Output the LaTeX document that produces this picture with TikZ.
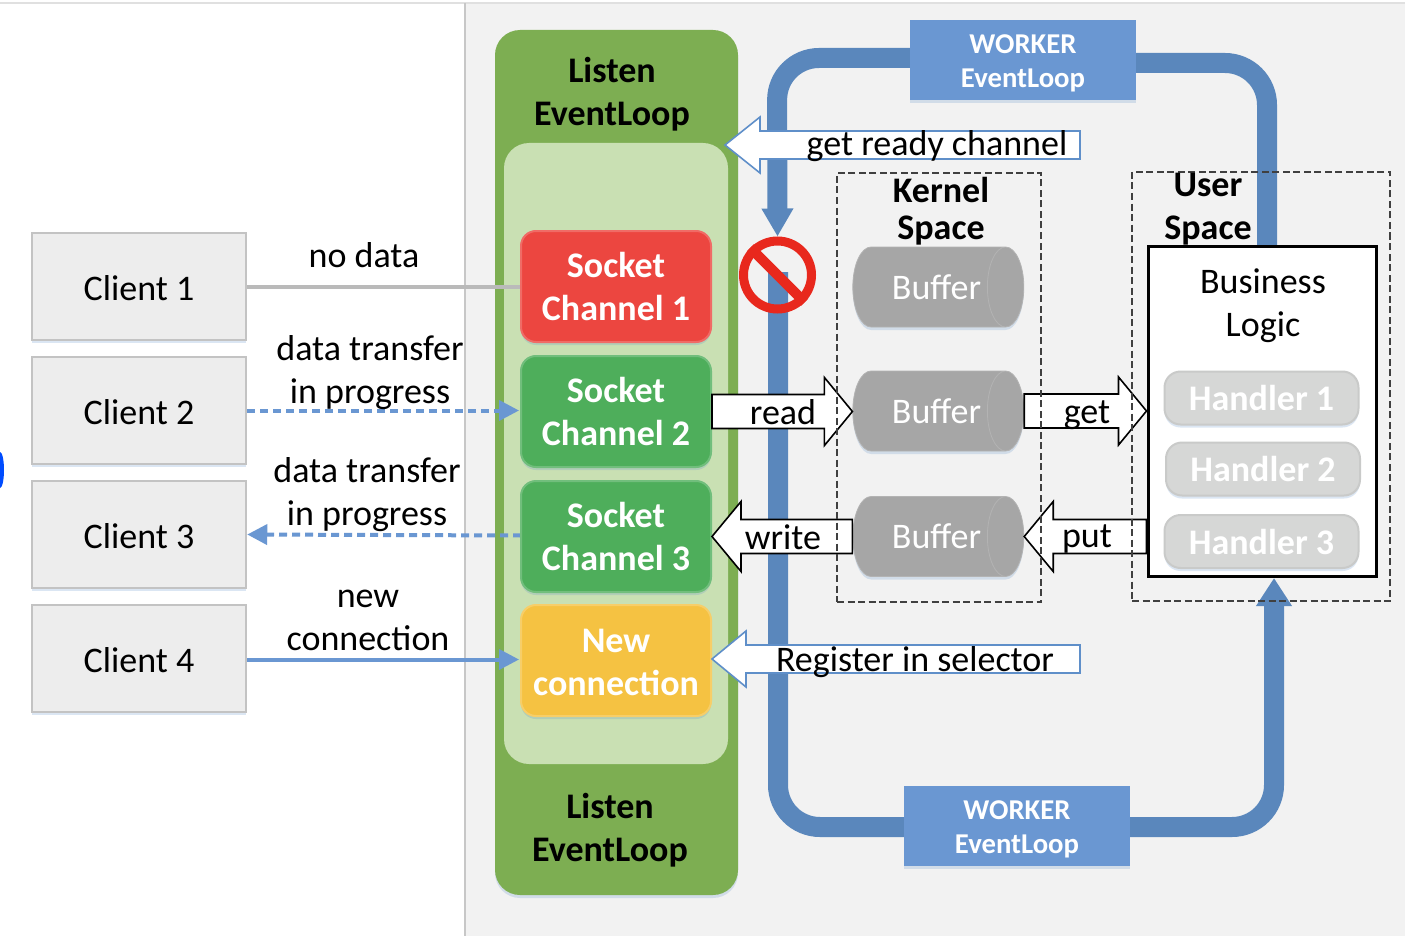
\documentclass[tikz,border=0pt]{standalone}
\usepackage{fontspec}
\setmainfont{Carlito}
\usetikzlibrary{shapes.geometric,arrows.meta,calc,shadows}
\pgfdeclarelayer{backdrop}
\pgfdeclarelayer{front}
\pgfsetlayers{backdrop,main,front}
\definecolor{pagebg}{HTML}{F2F2F2}
\definecolor{panelgreen}{HTML}{7DAE52}
\definecolor{innergreen}{HTML}{C9E0B3}
\definecolor{sockred}{HTML}{EC4640}
\definecolor{sockgreen}{HTML}{4EAE5B}
\definecolor{sockyellow}{HTML}{F5C242}
\definecolor{workerblue}{HTML}{6A97D2}
\definecolor{bandblue}{HTML}{5A87BC}
\definecolor{outlineblue}{HTML}{5F8FC9}
\definecolor{clientfill}{HTML}{EDEDED}
\definecolor{clientline}{HTML}{C3C3C3}
\definecolor{bufgray}{HTML}{A6A6A6}
\definecolor{handfill}{HTML}{D6D7D6}
\definecolor{handline}{HTML}{C9CAC9}
\definecolor{stopred}{HTML}{E8281D}
\tikzset{
  softshadow/.style={drop shadow={shadow xshift=0pt,shadow yshift=-3pt,fill=outlineblue,opacity=.22}},
  clientbox/.style={rectangle,draw=clientline,line width=2.5pt,fill=clientfill,minimum width=214pt,minimum height=107pt,inner sep=0pt,font=\fontsize{36}{43}\selectfont,softshadow},
  sockbox/.style={rectangle,rounded corners=15pt,draw=#1!80!white,line width=2pt,fill=#1,minimum width=190pt,minimum height=111pt,inner sep=0pt,align=center,text=white,font=\fontsize{36}{43}\selectfont\bfseries,softshadow},
  workerbox/.style={rectangle,fill=workerblue,minimum width=226pt,minimum height=80pt,inner sep=0pt,align=center,text=white,font=\fontsize{28.7}{34}\selectfont\bfseries,softshadow},
  bufferbox/.style={cylinder,shape border rotate=0,aspect=1.45,fill=bufgray,draw=bufgray!85!white,line width=.8pt,minimum height=171pt,minimum width=80pt,inner sep=0pt,text=white,font=\fontsize{36}{43}\selectfont,softshadow},
  handlerbox/.style={rectangle,rounded corners=16pt,draw=handline,line width=2pt,fill=handfill,minimum width=194pt,minimum height=53pt,inner sep=0pt,text=white,font=\fontsize{36}{43}\selectfont\bfseries,softshadow},
  txtlabel/.style={inner sep=0pt,align=center,font=\fontsize{36}{43}\selectfont},
  boldlabel/.style={txtlabel,font=\fontsize{36}{43}\selectfont\bfseries},
  spacebox/.style={draw=black!75,line width=1.3pt,dash pattern=on 7pt off 3.5pt},
  band/.style={draw=bandblue,line width=20pt,rounded corners=42pt},
  thinlink/.style={draw=workerblue,line width=4pt},
  linkdash/.style={thinlink,dash pattern=on 8pt off 5pt},
  blockline/.style={fill=white,line width=1.6pt,line join=miter},
}
% start, tip, half shaft, half head, signed head length, colour
\newcommand{\blockarrow}[6]{%
  \draw[blockline,draw=#6] let \p1=(#1),\p2=(#2) in
    (\x1,{\y1+#3pt}) -- ({\x2-(#5pt)},{\y1+#3pt}) -- ({\x2-(#5pt)},{\y1+#4pt}) --
    (\x2,\y1) -- ({\x2-(#5pt)},{\y1-#4pt}) -- ({\x2-(#5pt)},{\y1-#3pt}) -- (\x1,{\y1-#3pt}) -- cycle;}
\begin{document}
\begin{tikzpicture}[x=1pt,y=-1pt]
\useasboundingbox (0,0) rectangle (1405,936);

\begin{pgfonlayer}{front}
% prohibition sign
\node[circle,draw=stopred,line width=9pt,minimum size=68pt,inner sep=0pt] (stop) at (777.5,275) {};
\draw[draw=stopred,line width=10pt] (stop.135) -- (stop.-45);
% user space
\node[rectangle,draw=black,line width=3pt,fill=white,minimum width=228pt,minimum height=330pt,inner sep=0pt] (biz) at (1262,411) {};
\node[handlerbox] (h1) at (1261.5,398) {Handler 1};
\node[handlerbox] (h2) at (1263,469) {Handler 2};
\node[handlerbox] (h3) at (1261.5,541.5) {Handler 3};
% dashed spaces
\node[spacebox,rectangle,minimum width=204pt,minimum height=429pt,inner sep=0pt] (kernel) at (939,387.5) {};
\node[spacebox,rectangle,minimum width=258pt,minimum height=429pt,inner sep=0pt] (user) at (1261,386.5) {};
% labels
\node[boldlabel,font=\fontsize{36}{37}\selectfont\bfseries] (klabel) at (941,211) {Kernel\\Space};
\node[boldlabel] (ulabel) at (1208,209.5) {User\\Space};
\node[txtlabel] (blabel) at (1263,306) {Business\\Logic};
\node[txtlabel] (lnodata) at (364,255) {no data};
\node[txtlabel] (ldt1) at (370,372.5) {data transfer\\in progress};
\node[txtlabel] (ldt2) at (367,495) {data transfer\\in progress};
\node[txtlabel] (lnew) at (368,620.5) {new\\connection};
\node[txtlabel] (lget) at (937,146) {get ready channel};
\node[txtlabel] (lread) at (783,412) {read};
\node[txtlabel] (lgetb) at (1087,415.5) {get};
\node[txtlabel] (lwrite) at (783,537) {write};
\node[txtlabel] (lput) at (1087,539) {put};
\node[txtlabel] (lreg) at (915,662.5) {Register in selector};
\end{pgfonlayer}

% worker boxes
\node[workerbox] (w1) at (1023,60) {\rule{0pt}{26pt}WORKER\\EventLoop};
\node[workerbox] (w2) at (1017,826) {\rule{0pt}{26pt}WORKER\\EventLoop};

% listen panel
\node[rectangle,rounded corners=25pt,fill=panelgreen,minimum width=243pt,minimum height=865pt,inner sep=0pt,softshadow] (panel) at (616.5,462.5) {};
\node[rectangle,rounded corners=25pt,fill=innergreen,minimum width=224pt,minimum height=621pt,inner sep=0pt] (inner) at (616,453.5) {};
\node[boldlabel] (listen1) at (612,94) {Listen\\EventLoop};
\node[boldlabel] (listen2) at (610,830) {Listen\\EventLoop};

% clients
\node[clientbox] (c1) at (139,286.5) {\rule{0pt}{28pt}Client 1};
\node[clientbox] (c2) at (139,410.5) {\rule{0pt}{28pt}Client 2};
\node[clientbox] (c3) at (139,534.5) {\rule{0pt}{28pt}Client 3};
\node[clientbox] (c4) at (139,658.5) {\rule{0pt}{28pt}Client 4};

% links
\coordinate (s1w) at (521,286.5);
\coordinate (s2w) at (519,410.5);
\coordinate (s3w) at (521,535.5);
\coordinate (s4w) at (519,659.5);
\draw[draw=black!27,line width=4pt] (c1.east) -- (s1w);
\draw[linkdash,-{Triangle[length=20pt,width=20pt]}] (c2.east) -- (s2w);
\draw[linkdash,-{Triangle[length=20pt,width=20pt]}] (s3w) -- (c3.east);
\draw[thinlink,-{Triangle[length=20pt,width=20pt]}] (c4.east |- s4w) -- (s4w);

% sockets
\node[sockbox=sockred] (s1) at (616,286.5) {Socket\\Channel 1};
\node[sockbox=sockgreen] (s2) at (616,411.5) {Socket\\Channel 2};
\node[sockbox=sockgreen] (s3) at (616,536.5) {Socket\\Channel 3};
\node[sockbox=sockyellow] (s4) at (616,660.5) {\rule{0pt}{28pt}New\\connection};

% buffers
\node[bufferbox] (b1) at (929,287) {\hspace*{15pt}Buffer};
\node[bufferbox] (b2) at (929,411) {\hspace*{15pt}Buffer};
\node[bufferbox] (b3) at (929,536.5) {\hspace*{15pt}Buffer};

% block arrows
\coordinate (grtail) at (1080,145);
\coordinate (grtip) at (725,145);
\coordinate (regtail) at (1080,659);
\blockarrow{grtail}{grtip}{14}{28}{-35}{outlineblue}
\blockarrow{regtail}{s4.east}{14}{28}{-34}{outlineblue}
\blockarrow{s2.east}{b2.west}{17}{34}{28}{black}
\blockarrow{b2.east}{biz.west}{17}{34}{28}{black}
\blockarrow{biz.west |- b3.east}{b3.east}{17}{35}{-29}{black}
\blockarrow{b3.west}{s3.east}{17}{35}{-29}{black}

\begin{pgfonlayer}{backdrop}
% page
\fill[white] (0,0) rectangle (1405,936);
\fill[pagebg] (465,3) rectangle (1405,936);
\draw[draw=black!12,line width=2.5pt] (0,3) -- (1405,3);
\draw[draw=black!22,line width=2.5pt] (465,3) -- (465,936);
\fill[color=blue!70!cyan] (0,470) ellipse [x radius=4,y radius=18];
% worker loop
\draw[band,-{Triangle[length=28pt,width=30pt]}] (w1.west |- 0,58) -- (777,58) -- (stop.north);
\draw[band] (778,272) -- (778,827) -- (w2.west |- 0,827);
\draw[band] (w1.east |- 0,63) -- (1267,63) -- (1267,246);
\draw[band,-{Triangle[length=28pt,width=34pt]}] (w2.east |- 0,827) -- (1274,827) -- (1274,578);
\end{pgfonlayer}
\end{tikzpicture}
\end{document}
